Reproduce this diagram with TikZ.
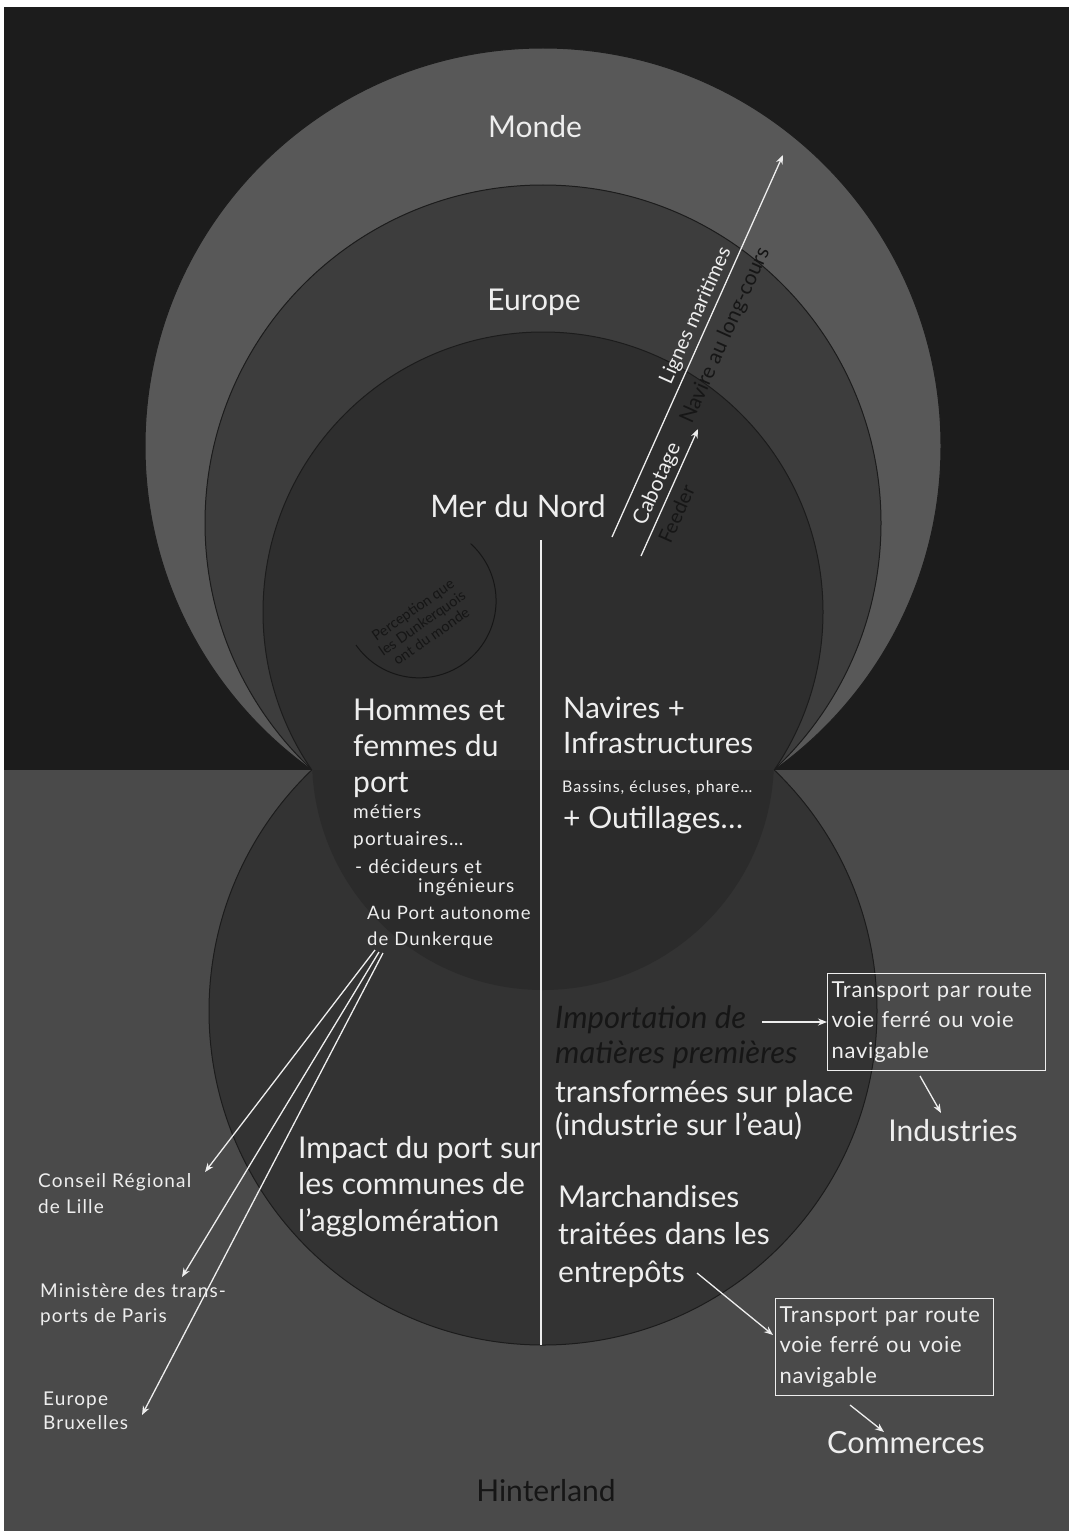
\documentclass[tikz,border=0pt]{standalone}
\usepackage{fontspec}
\setmainfont{Lato}
\newfontfamily\wsf[LetterSpace=6]{Lato}
\newfontfamily\bsf[LetterSpace=3.5]{Lato}
\usetikzlibrary{arrows.meta}
\definecolor{pagebg}{HTML}{1C1C1C}
\definecolor{lowbg}{HTML}{4A4A4A}
\definecolor{mondec}{HTML}{585858}
\definecolor{europec}{HTML}{3D3D3D}
\definecolor{nordc}{HTML}{2E2E2E}
\definecolor{impactc}{HTML}{333333}
\definecolor{lensc}{HTML}{2B2B2B}
\definecolor{inkw}{HTML}{EEEEEE}
\definecolor{inkd}{HTML}{161616}
\definecolor{rimc}{HTML}{1C1C1C}
\newcommand\fsz[2]{\fontsize{#1}{#2}\selectfont}
\begin{document}
\begin{tikzpicture}[x=1pt,y=-1pt,
  txt/.style={text=inkw, inner sep=0pt},
  dtxt/.style={text=inkd, inner sep=0pt},
  arr/.style={draw=inkw, line width=1.3pt, -{Stealth[length=9pt,width=7pt]}},
  tbox/.style={draw=inkw, line width=1.2pt, text=inkw, align=left, text width=210pt,
     inner xsep=4pt, inner ysep=7pt, minimum height=97pt, font=\bsf\fsz{22}{30.5}, anchor=north west},
  rim/.style={draw=rimc, line width=1pt}]
\useasboundingbox (0,0) rectangle (1073,1533);
\fill[white] (0,0) rectangle (1073,1533);
\fill[pagebg] (4,7) rectangle (1069,1531);
\fill[lowbg] (4,770) rectangle (1069,1531);
% upper nested circles
\begin{scope}
 \clip (4,7) rectangle (1069,770);
 \filldraw[fill=mondec, rim] (543,446) circle (398);
 \filldraw[fill=europec, rim] (543,523) circle (338);
 \filldraw[fill=nordc, rim] (543,612) circle (280);
\end{scope}
% lower circle
\begin{scope}
 \clip (4,770) rectangle (1069,1531);
 \filldraw[fill=impactc, rim] (543,1011) circle (334);
 \fill[lensc] (543,759) circle (231);
\end{scope}

% scale labels
\node[txt, anchor=base, font=\fsz{30}{34}] (monde) at (535,138) {Monde};
\node[txt, anchor=base, font=\fsz{30}{34}] (europe) at (534,310) {Europe};
\node[txt, anchor=base, font=\fsz{31}{34}] (nord) at (518,517) {Mer du Nord};

% maritime arrows
\coordinate (lgs) at (612,537);
\coordinate (lge) at (783,155);
\draw[arr] (lgs) -- node[pos=0.565, sloped, above=4pt, txt, font=\fsz{20}{24}] (lignes) {Lignes maritimes}
  node[pos=0.55, sloped, below=11pt, dtxt, font=\fsz{21}{24}] (navire) {Navire au long-cours} (lge);
\coordinate (cbs) at (641,556);
\coordinate (cbe) at (698,429);
\draw[arr] (cbs) -- node[pos=0.52, sloped, above=4pt, txt, font=\fsz{21}{24}] (cabot) {Cabotage}
  node[pos=0.38, sloped, below=7pt, dtxt, font=\fsz{20}{24}] (feeder) {Feeder} (cbe);

% perception arc
\coordinate (pcs) at (356,645);
\draw[draw=inkd, line width=1pt] (pcs) arc[start angle=145, end angle=-48, radius=77];
\node[dtxt, font=\fsz{14.5}{16}, rotate=35, align=center] (percep) at (422,623) {Perception que\\les Dunkerquois\\ont du monde};

% vertical divider
\coordinate (vt) at (541,540);
\coordinate (vb) at (541,1345);
\draw[inkw, line width=1.2pt] (vt) -- (vb);

% left block (base = last line)
\node[txt, anchor=base west, font=\fsz{30}{36}, align=left] (hommes) at (353,792) {Hommes et\\femmes du\\port};
\node[txt, anchor=base west, font=\wsf\fsz{19}{27}, align=left] (metiers) at (353,845) {métiers\\portuaires…};
\node[txt, anchor=base west, font=\wsf\fsz{19}{20}] (decid) at (355,873) {- décideurs et};
\node[txt, anchor=base west, font=\wsf\fsz{19}{20}] (ingen) at (418,892) {ingénieurs};
\node[txt, anchor=base west, font=\wsf\fsz{18.5}{26}, align=left] (auport) at (367,945) {Au Port autonome\\de Dunkerque};

% right block
\node[txt, anchor=base west, font=\fsz{29.5}{35}, align=left] (navires) at (563,753) {Navires +\\Infrastructures};
\node[txt, anchor=base west, font=\wsf\fsz{16}{17}] (bassins) at (562,792) {Bassins, écluses, phare…};
\node[txt, anchor=base west, font=\fsz{30}{34}] (outil) at (563,828) {+ Outillages…};

% institutions
\node[txt, anchor=base west, font=\wsf\fsz{19}{26}, align=left] (conseil) at (38,1213) {Conseil Régional\\de Lille};
\node[txt, anchor=base west, font=\wsf\fsz{19}{25}, align=left] (minist) at (40,1322) {Ministère des trans-\\ports de Paris};
\node[txt, anchor=base west, font=\wsf\fsz{19}{24}, align=left] (bruxel) at (43,1429) {Europe\\Bruxelles};
\coordinate (pa1) at (375,950);
\coordinate (pa2) at (379,952);
\coordinate (pa3) at (383,953);
\coordinate (ta1) at (205,1172);
\coordinate (ta2) at (182,1277);
\coordinate (ta3) at (142,1415);
\draw[arr] (pa1) -- (ta1);
\draw[arr] (pa2) -- (ta2);
\draw[arr] (pa3) -- (ta3);

% impact
\node[txt, anchor=base west, font=\fsz{30}{36.5}, align=left] (impact) at (298,1231) {Impact du port sur\\les communes de\\l’agglomération};

% importation
\node[dtxt, anchor=base west, font=\fsz{31}{35}\itshape, align=left] (import) at (555,1063) {Importation de\\matières premières};
\node[txt, anchor=base west, font=\fsz{30}{33}, align=left] (transf) at (555,1135) {transformées sur place\\(industrie sur l’eau)};
\node[tbox] (box1) at (827,973) {Transport par route\\voie ferré ou voie\\navigable};
\coordinate (impfrom) at (762,1022);
\draw[arr] (impfrom) -- (box1.west |- impfrom);
\node[txt, anchor=base, font=\fsz{30}{30}] (indus) at (953,1141) {Industries};
\coordinate (b1a) at (920,1076);
\coordinate (b1b) at (941,1113);
\draw[arr] (b1a) -- (b1b);

% marchandises
\node[txt, anchor=base west, font=\fsz{30}{37.5}, align=left] (march) at (558,1282) {Marchandises\\traitées dans les\\entrepôts};
\node[tbox] (box2) at (775,1298) {Transport par route\\voie ferré ou voie\\navigable};
\coordinate (mfrom) at (697,1273);
\coordinate (mto) at (773,1335);
\draw[arr] (mfrom) -- (mto);
\node[txt, anchor=base, font=\fsz{30.5}{30}] (comm) at (906,1453) {Commerces};
\coordinate (b2a) at (850,1405);
\coordinate (b2b) at (884,1432);
\draw[arr] (b2a) -- (b2b);

% hinterland
\node[dtxt, anchor=base, font=\fsz{30}{30}] (hinter) at (546,1501) {Hinterland};
\end{tikzpicture}
\end{document}
